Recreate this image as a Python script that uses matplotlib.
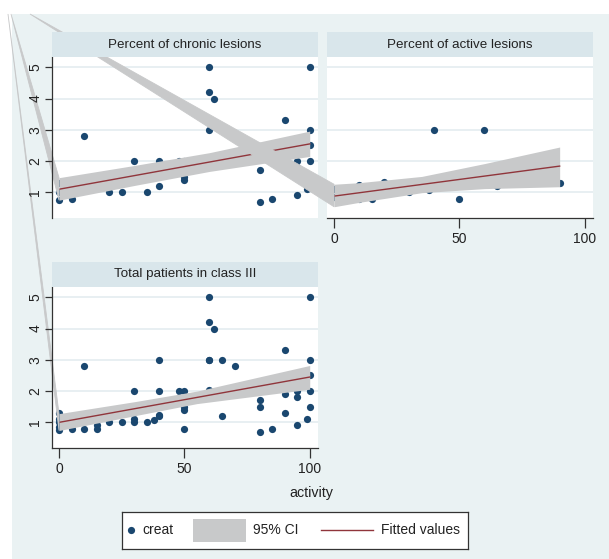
import numpy as np
import matplotlib
matplotlib.use("Agg")
import matplotlib.pyplot as plt
from matplotlib.patches import Rectangle, Polygon

plt.rcParams['font.family'] = ['Liberation Sans', 'DejaVu Sans']

# ---------------- data ----------------
chronic_x = [0, 0, 0, 5, 10, 20, 25, 30, 35, 40, 40, 48, 50, 50, 50,
             60, 60, 62, 60, 60, 65, 70, 80, 80, 85, 90, 90, 95, 95, 95,
             99, 100, 100, 100, 100, 100]
chronic_y = [0.75, 1.0, 1.3, 0.8, 2.8, 1.0, 1.0, 2.0, 1.0, 2.0, 1.2, 2.0, 2.0, 1.4, 1.5,
             5.0, 4.2, 4.0, 3.0, 2.05, 3.0, 2.8, 1.7, 0.7, 0.8, 3.3, 1.9, 2.0, 1.8, 0.9,
             1.1, 5.0, 3.0, 2.5, 2.0, 1.5]

active_x = [0, 0, 10, 10, 15, 15, 20, 30, 30, 38, 40, 40, 50, 60, 65, 80, 90]
active_y = [0.85, 1.1, 1.25, 0.8, 0.8, 0.9, 1.33, 1.0, 1.1, 1.07, 3.0, 1.25, 0.8, 3.0, 1.2, 1.5, 1.3]

total_x = chronic_x + active_x
total_y = chronic_y + active_y

# fitted values and 95% CI
chronic_fit_x = [0, 100]
chronic_fit_y = [1.10, 2.55]
chronic_ci_x = [0, 30, 60, 100]
chronic_ci_lo = [0.75, 1.22, 1.67, 2.15]
chronic_ci_hi = [1.47, 1.86, 2.27, 2.96]

active_fit_x = [0, 90]
active_fit_y = [0.88, 1.84]
active_ci_x = [0, 10, 35, 60, 90]
active_ci_lo = [0.54, 0.68, 0.99, 1.12, 1.18]
active_ci_hi = [1.26, 1.31, 1.51, 1.92, 2.45]

total_fit_x = [0, 100]
total_fit_y = [1.00, 2.45]
total_ci_x = [0, 30, 55, 100]
total_ci_lo = [0.74, 1.21, 1.60, 2.06]
total_ci_hi = [1.28, 1.66, 2.00, 2.82]

panel_titles = ["Percent of chronic lesions", "Percent of active lesions", "Total patients in class III"]
x_ticks = [0, 50, 100]
y_ticks = [1, 2, 3, 4, 5]
legend_labels = ["creat", "95% CI", "Fitted values"]
x_label = "activity"

# ---------------- style ----------------
W, H = 609, 559
C_REGION = '#EAF2F3'
C_STRIP = '#D9E6EB'
C_GRID = '#E6EEF1'
C_MARK = '#1A476F'
C_CI = '#C8C9CA'
C_FIT = '#90353B'
C_TXT = '#222222'
C_AX = '#333333'
XLIM = (-2.8, 103.3)
YLIM = (0.18, 5.33)

fig = plt.figure(figsize=(W / 100, H / 100), dpi=100)
fig.patch.set_facecolor('white')
fig.patches.append(Rectangle((12 / W, 0), 1 - 12 / W, 1 - 14 / H, transform=fig.transFigure,
                             facecolor=C_REGION, edgecolor='none', zorder=-1))


def px_rect(l, t, r, b):
    return [l / W, 1 - b / H, (r - l) / W, (b - t) / H]


panels = [
    dict(rect=(52, 57, 318, 218), strip=(52, 32, 318, 57), x=chronic_x, y=chronic_y,
         fx=chronic_fit_x, fy=chronic_fit_y, cx=chronic_ci_x, clo=chronic_ci_lo, chi=chronic_ci_hi,
         yaxis=True, xaxis=False, title=panel_titles[0]),
    dict(rect=(327, 57, 593, 218), strip=(327, 32, 593, 57), x=active_x, y=active_y,
         fx=active_fit_x, fy=active_fit_y, cx=active_ci_x, clo=active_ci_lo, chi=active_ci_hi,
         yaxis=False, xaxis=True, title=panel_titles[1]),
    dict(rect=(52, 287, 318, 448), strip=(52, 262, 318, 287), x=total_x, y=total_y,
         fx=total_fit_x, fy=total_fit_y, cx=total_ci_x, clo=total_ci_lo, chi=total_ci_hi,
         yaxis=True, xaxis=True, title=panel_titles[2]),
]

FS_TICK = 10.0
FS_TITLE = 9.6
FS_LEG = 10.0
axes = []
for p in panels:
    # data layer
    ax = fig.add_axes(px_rect(*p['rect']), zorder=0)
    ax.set_facecolor('white')
    ax.set_xlim(*XLIM)
    ax.set_ylim(*YLIM)
    ax.set_yticks(y_ticks)
    ax.set_xticks(x_ticks)
    ax.yaxis.grid(True, color=C_GRID, lw=1.3)
    ax.set_axisbelow(True)
    for sp in ax.spines.values():
        sp.set_visible(False)
    ax.tick_params(length=0, labelleft=False, labelbottom=False)
    ax.plot(p['x'], p['y'], 'o', color=C_MARK, ms=5.2, mew=0, zorder=2, clip_on=False)
    ax.fill_between(p['cx'], p['clo'], p['chi'], color=C_CI, lw=0, zorder=3)
    ax.plot(p['fx'], p['fy'], color=C_FIT, lw=1.0, zorder=4)
    axes.append(ax)

    # axis decoration layer
    dx = fig.add_axes(px_rect(*p['rect']), zorder=2)
    dx.patch.set_visible(False)
    dx.set_xlim(*XLIM)
    dx.set_ylim(*YLIM)
    dx.set_yticks(y_ticks)
    dx.set_xticks(x_ticks)
    for sp in ['top', 'right']:
        dx.spines[sp].set_visible(False)
    dx.spines['left'].set_visible(p['yaxis'])
    dx.spines['bottom'].set_visible(p['xaxis'])
    for sp in ['left', 'bottom']:
        dx.spines[sp].set_color(C_AX)
        dx.spines[sp].set_linewidth(0.9)
    if p['yaxis']:
        dx.tick_params(axis='y', length=5, width=0.9, color=C_AX, labelsize=FS_TICK,
                       labelrotation=90, pad=2, labelcolor=C_TXT)
        for lab in dx.get_yticklabels():
            lab.set_va('center')
    else:
        dx.tick_params(axis='y', length=0, labelleft=False)
    if p['xaxis']:
        dx.tick_params(axis='x', length=7, width=0.9, color=C_AX, labelsize=FS_TICK,
                       pad=3, labelcolor=C_TXT)
    else:
        dx.tick_params(axis='x', length=0, labelbottom=False)

    # strip with panel title
    sax = fig.add_axes(px_rect(*p['strip']), zorder=3)
    sax.set_facecolor(C_STRIP)
    for sp in sax.spines.values():
        sp.set_visible(False)
    sax.set_xticks([])
    sax.set_yticks([])
    sax.text(0.5, 0.5, p['title'], ha='center', va='center', fontsize=FS_TITLE,
             color=C_TXT, transform=sax.transAxes)

# rendering artefacts of the original: CI polygons joined to the graph corner
apexes = [(11, 14), (30, 14), (8, 14)]
inv = fig.transFigure.inverted()
for ax, p, (axp, ayp) in zip(axes, panels, apexes):
    p_lo = inv.transform(ax.transData.transform((p['cx'][0], p['clo'][0])))
    p_hi = inv.transform(ax.transData.transform((p['cx'][0], p['chi'][0])))
    apex = (axp / W, 1 - ayp / H)
    fig.patches.append(Polygon([apex, tuple(p_hi), tuple(p_lo)], closed=True,
                               transform=fig.transFigure, facecolor=C_CI,
                               edgecolor=C_CI, lw=0.6, zorder=1))

fig.text(311 / W, 1 - 493 / H, x_label, ha='center', va='center', fontsize=10.3, color=C_TXT)

# legend
lax = fig.add_axes(px_rect(122, 512, 468, 549), zorder=3)
lax.set_facecolor('white')
lax.set_xlim(0, 1)
lax.set_ylim(0, 1)
lax.set_xticks([])
lax.set_yticks([])
for sp in lax.spines.values():
    sp.set_color(C_AX)
    sp.set_linewidth(0.9)
lax.plot([0.025], [0.52], 'o', color=C_MARK, ms=5.2, mew=0)
lax.text(0.058, 0.5, legend_labels[0], ha='left', va='center', fontsize=FS_LEG, color=C_TXT)
lax.add_patch(Rectangle((0.205, 0.2), 0.153, 0.6, facecolor=C_CI, edgecolor='none'))
lax.text(0.379, 0.5, legend_labels[1], ha='left', va='center', fontsize=FS_LEG, color=C_TXT)
lax.plot([0.575, 0.725], [0.52, 0.52], color=C_FIT, lw=1.0)
lax.text(0.749, 0.5, legend_labels[2], ha='left', va='center', fontsize=FS_LEG, color=C_TXT)

fig.savefig('out.png', dpi=100)
